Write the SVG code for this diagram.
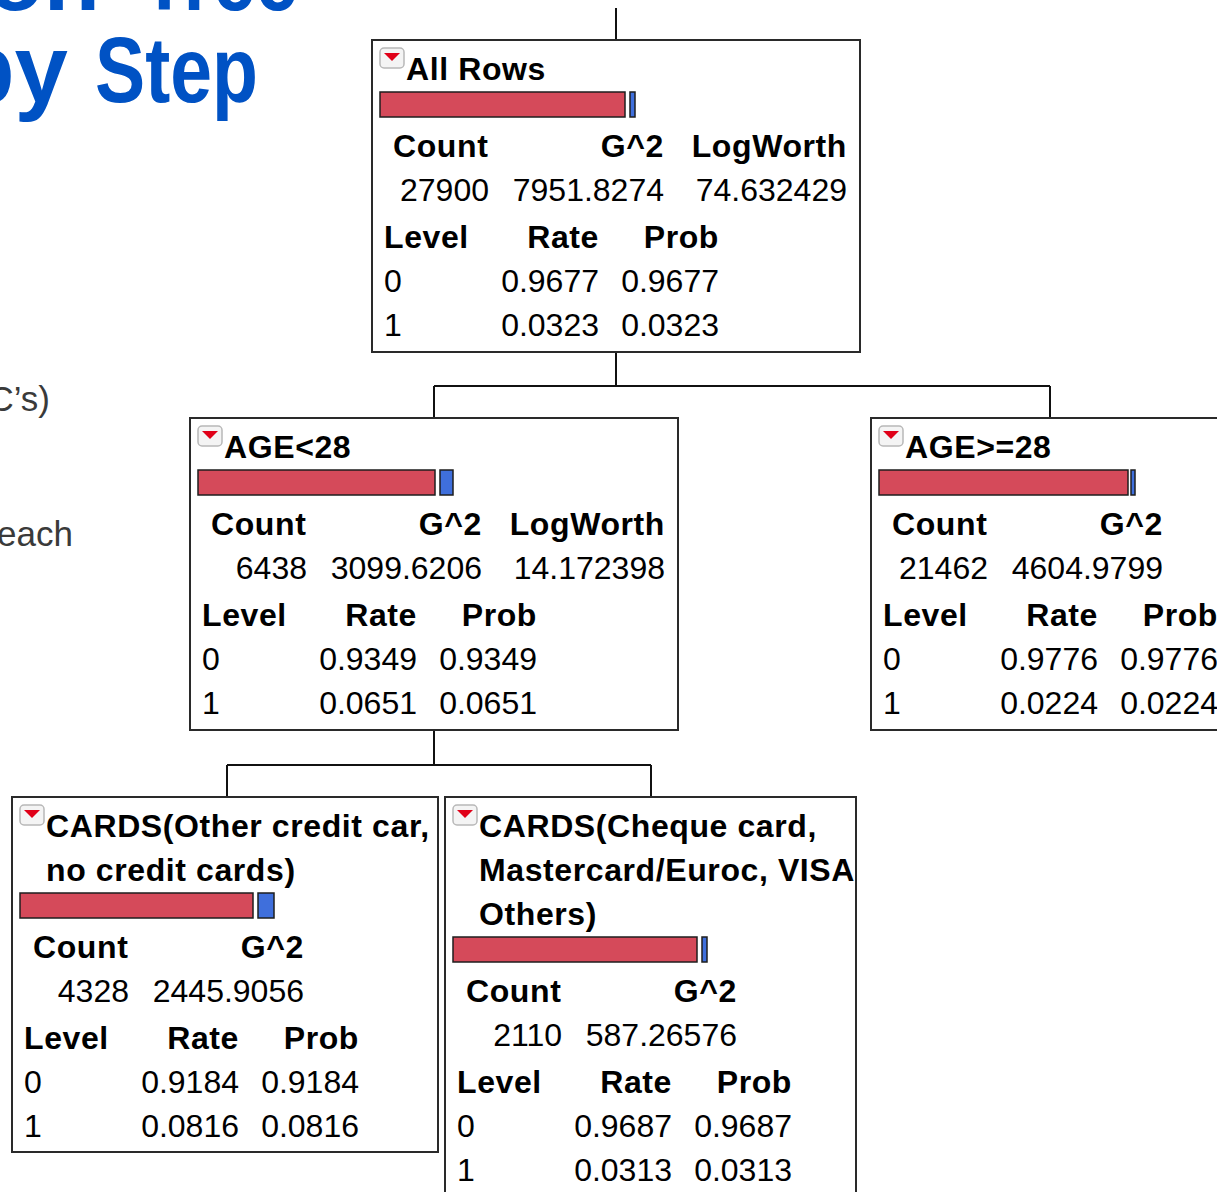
<svg xmlns="http://www.w3.org/2000/svg" width="1217" height="1192" viewBox="0 0 1217 1192">
<defs>
<style>
.box{fill:#ffffff;stroke:#2a2a2a;stroke-width:2}
.ic{fill:#f4f4f4;stroke:#b8b8b8;stroke-width:1.5}
.tri{fill:#e00018}
.red{fill:#d54a5a;stroke:#1e1e1e;stroke-width:1.5}
.blue{fill:#3f6fdc;stroke:#1e1e1e;stroke-width:1.5}
.h{font-family:"Liberation Sans",Arial,sans-serif;font-weight:bold;font-size:32px;letter-spacing:0.6px;fill:#000}
.v{font-family:"Liberation Sans",Arial,sans-serif;font-size:32px;fill:#000}
.e{text-anchor:end}
.conn{fill:none;stroke:#111;stroke-width:2}
.title{font-family:"Liberation Sans",Arial,sans-serif;font-weight:bold;fill:#0052c4}
.side{font-family:"Liberation Sans",Arial,sans-serif;font-size:35px;fill:#3a3a3a}
</style>
</defs>
<rect width="1217" height="1192" fill="#ffffff"/>

<g id="slide-text">
<text class="title" font-size="92"><tspan x="100" y="10" text-anchor="end">Decision</tspan><tspan x="141" y="10" textLength="157" lengthAdjust="spacingAndGlyphs">Tree</tspan><tspan x="68" y="102" font-size="96" text-anchor="end">by</tspan><tspan x="95" y="102" textLength="163" lengthAdjust="spacingAndGlyphs">Step</tspan></text>
<text class="side" x="50" y="411" text-anchor="end">C’s)</text>
<text class="side" x="73" y="546" text-anchor="end">each</text>
</g>

<g id="connectors">
<path class="conn" d="M616,8 V40"/>
<path class="conn" d="M616,352 V386 M434,386 H1050 M434,386 V418 M1050,386 V418"/>
<path class="conn" d="M434,730 V765 M227,765 H651 M227,765 V797 M651,765 V797"/>
</g>

<g id="node-all-rows" transform="translate(372,40)">
<rect class="box" x="0" y="0" width="488" height="312"/>
<rect class="ic" x="8" y="8" width="24" height="20" rx="4"/>
<polygon class="tri" points="12,13 28,13 20,21"/>
<text class="h" x="34" y="40">All Rows</text>
<rect class="red" x="8" y="52" width="245" height="25"/>
<rect class="blue" x="258" y="52" width="5" height="25"/>
<text class="h" x="21" y="117">Count</text>
<text class="h e" x="292" y="117">G^2</text>
<text class="h e" x="475" y="117">LogWorth</text>
<text class="v e" x="117" y="161">27900</text>
<text class="v e" x="292" y="161">7951.8274</text>
<text class="v e" x="475" y="161">74.632429</text>
<text class="h" x="12" y="208">Level</text>
<text class="h e" x="227" y="208">Rate</text>
<text class="h e" x="347" y="208">Prob</text>
<text class="v" x="12" y="252">0</text>
<text class="v e" x="227" y="252">0.9677</text>
<text class="v e" x="347" y="252">0.9677</text>
<text class="v" x="12" y="296">1</text>
<text class="v e" x="227" y="296">0.0323</text>
<text class="v e" x="347" y="296">0.0323</text>
</g>

<g id="node-age-lt-28" transform="translate(190,418)">
<rect class="box" x="0" y="0" width="488" height="312"/>
<rect class="ic" x="8" y="8" width="24" height="20" rx="4"/>
<polygon class="tri" points="12,13 28,13 20,21"/>
<text class="h" x="34" y="40">AGE&lt;28</text>
<rect class="red" x="8" y="52" width="237" height="25"/>
<rect class="blue" x="250" y="52" width="13" height="25"/>
<text class="h" x="21" y="117">Count</text>
<text class="h e" x="292" y="117">G^2</text>
<text class="h e" x="475" y="117">LogWorth</text>
<text class="v e" x="117" y="161">6438</text>
<text class="v e" x="292" y="161">3099.6206</text>
<text class="v e" x="475" y="161">14.172398</text>
<text class="h" x="12" y="208">Level</text>
<text class="h e" x="227" y="208">Rate</text>
<text class="h e" x="347" y="208">Prob</text>
<text class="v" x="12" y="252">0</text>
<text class="v e" x="227" y="252">0.9349</text>
<text class="v e" x="347" y="252">0.9349</text>
<text class="v" x="12" y="296">1</text>
<text class="v e" x="227" y="296">0.0651</text>
<text class="v e" x="347" y="296">0.0651</text>
</g>

<g id="node-age-ge-28" transform="translate(871,418)">
<rect class="box" x="0" y="0" width="488" height="312"/>
<rect class="ic" x="8" y="8" width="24" height="20" rx="4"/>
<polygon class="tri" points="12,13 28,13 20,21"/>
<text class="h" x="34" y="40">AGE&gt;=28</text>
<rect class="red" x="8" y="52" width="249" height="25"/>
<rect class="blue" x="260" y="52" width="4" height="25"/>
<text class="h" x="21" y="117">Count</text>
<text class="h e" x="292" y="117">G^2</text>
<text class="v e" x="117" y="161">21462</text>
<text class="v e" x="292" y="161">4604.9799</text>
<text class="h" x="12" y="208">Level</text>
<text class="h e" x="227" y="208">Rate</text>
<text class="h e" x="347" y="208">Prob</text>
<text class="v" x="12" y="252">0</text>
<text class="v e" x="227" y="252">0.9776</text>
<text class="v e" x="347" y="252">0.9776</text>
<text class="v" x="12" y="296">1</text>
<text class="v e" x="227" y="296">0.0224</text>
<text class="v e" x="347" y="296">0.0224</text>
</g>

<g id="node-cards-other" transform="translate(12,797)">
<rect class="box" x="0" y="0" width="426" height="355"/>
<rect class="ic" x="8" y="8" width="24" height="20" rx="4"/>
<polygon class="tri" points="12,13 28,13 20,21"/>
<text class="h" x="34" y="40">CARDS(Other credit car,</text>
<text class="h" x="34" y="84">no credit cards)</text>
<rect class="red" x="8" y="96" width="233" height="25"/>
<rect class="blue" x="246" y="96" width="16" height="25"/>
<text class="h" x="21" y="161">Count</text>
<text class="h e" x="292" y="161">G^2</text>
<text class="v e" x="117" y="205">4328</text>
<text class="v e" x="292" y="205">2445.9056</text>
<text class="h" x="12" y="252">Level</text>
<text class="h e" x="227" y="252">Rate</text>
<text class="h e" x="347" y="252">Prob</text>
<text class="v" x="12" y="296">0</text>
<text class="v e" x="227" y="296">0.9184</text>
<text class="v e" x="347" y="296">0.9184</text>
<text class="v" x="12" y="340">1</text>
<text class="v e" x="227" y="340">0.0816</text>
<text class="v e" x="347" y="340">0.0816</text>
</g>

<g id="node-cards-cheque" transform="translate(445,797)">
<rect class="box" x="0" y="0" width="411" height="420"/>
<rect class="ic" x="8" y="8" width="24" height="20" rx="4"/>
<polygon class="tri" points="12,13 28,13 20,21"/>
<text class="h" x="34" y="40">CARDS(Cheque card,</text>
<text class="h" x="34" y="84">Mastercard/Euroc, VISA</text>
<text class="h" x="34" y="128">Others)</text>
<rect class="red" x="8" y="140" width="244" height="25"/>
<rect class="blue" x="257" y="140" width="5" height="25"/>
<text class="h" x="21" y="205">Count</text>
<text class="h e" x="292" y="205">G^2</text>
<text class="v e" x="117" y="249">2110</text>
<text class="v e" x="292" y="249">587.26576</text>
<text class="h" x="12" y="296">Level</text>
<text class="h e" x="227" y="296">Rate</text>
<text class="h e" x="347" y="296">Prob</text>
<text class="v" x="12" y="340">0</text>
<text class="v e" x="227" y="340">0.9687</text>
<text class="v e" x="347" y="340">0.9687</text>
<text class="v" x="12" y="384">1</text>
<text class="v e" x="227" y="384">0.0313</text>
<text class="v e" x="347" y="384">0.0313</text>
</g>
</svg>
